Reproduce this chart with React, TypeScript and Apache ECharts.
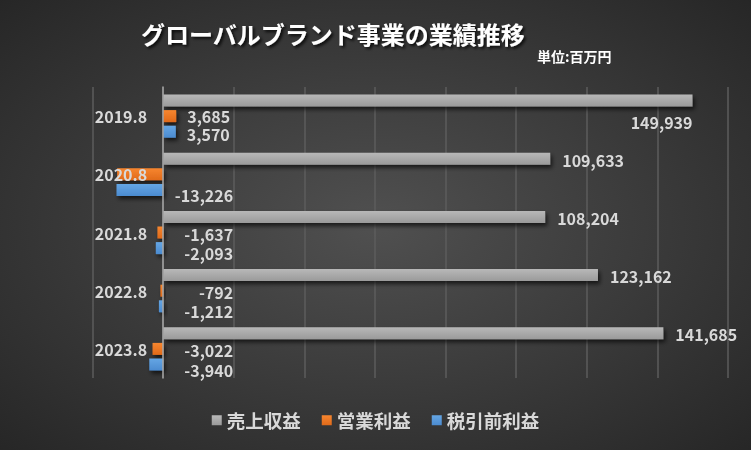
import React, { useEffect, useRef } from "react";
import * as echarts from "echarts";

const categories = ["2019.8", "2020.8", "2021.8", "2022.8", "2023.8"];
const seriesNames = ["売上収益", "営業利益", "税引前利益"];
const revenue = [149939, 109633, 108204, 123162, 141685];
const operatingProfit = [3685, -13050, -1637, -792, -3022];
const pretaxProfit = [3570, -13226, -2093, -1212, -3940];
const operatingLabelHidden = ["2020.8"];
const titleText = "グローバルブランド事業の業績推移";
const unitText = "単位:百万円";
const xMin = -20000;
const xMax = 160000;
const xStep = 20000;

const FONT = "'Noto Sans CJK JP', 'Noto Sans', sans-serif";
const LABEL_COLOR = "#d9d9d9";
const GRID_LEFT = 92.6;
const GRID_RIGHT = 23;
const W = 751;

const fmt = (v: number) => v.toLocaleString("en-US");

const grad = (top: string, bottom: string) =>
  new echarts.graphic.LinearGradient(0, 0, 0, 1, [
    { offset: 0, color: top },
    { offset: 1, color: bottom },
  ]);

const baseLabel = {
  show: true,
  color: LABEL_COLOR,
  fontFamily: FONT,
  fontWeight: "bold" as const,
  fontSize: 16,
  lineHeight: 14,
  formatter: (p: any) => fmt(p.value),
};

const profitItems = (
  values: number[],
  dyPos: number,
  dyNeg: number,
  hidden: string[] = []
) =>
  values.map((v, i) => {
    const hide = hidden.includes(categories[i]);
    if (hide) return { value: v, label: { show: false } };
    if (v < 0)
      return {
        value: v,
        label: { position: "right", align: "right", distance: 0, offset: [70, dyNeg] },
      };
    return { value: v, label: { position: "right", distance: 11, offset: [0, dyPos] } };
  });

const revenueItems = () => {
  const max = Math.max(...revenue);
  return revenue.map((v) =>
    v === max
      ? {
          value: v,
          label: {
            position: ["100%", "100%"],
            align: "right",
            verticalAlign: "top",
            offset: [0, 8],
          },
        }
      : { value: v, label: { position: "right", distance: 12, offset: [0, 1] } }
  );
};

const shadow = {
  shadowColor: "rgba(0,0,0,0.65)",
  shadowBlur: 4,
  shadowOffsetX: 2,
  shadowOffsetY: 3,
};

export default function App() {
  const ref = useRef<HTMLDivElement>(null);
  useEffect(() => {
    if (!ref.current) return;
    const chart = echarts.init(ref.current, undefined, { renderer: "svg" });
    const plotW = W - GRID_LEFT - GRID_RIGHT;
    const zeroShift = ((0 - xMin) / (xMax - xMin)) * plotW;
    chart.setOption({
      animation: false,
      backgroundColor: {
        type: "radial",
        x: 0.5,
        y: 0.5,
        r: 0.75,
        colorStops: [
          { offset: 0, color: "#505050" },
          { offset: 1, color: "#242424" },
        ],
      },
      title: [
        {
          text: titleText,
          left: 136,
          top: 16,
          textStyle: {
            color: "#ffffff",
            fontFamily: FONT,
            fontWeight: "bold",
            fontSize: 24,
            textShadowColor: "rgba(0,0,0,0.8)",
            textShadowBlur: 3,
            textShadowOffsetX: 2,
            textShadowOffsetY: 2,
          },
        },
        {
          text: unitText,
          left: 532,
          top: 44,
          textStyle: {
            color: "#ffffff",
            fontFamily: FONT,
            fontWeight: "bold",
            fontSize: 14,
          },
        },
      ],
      legend: {
        data: seriesNames,
        left: "center",
        top: 406,
        icon: "rect",
        itemWidth: 10,
        itemHeight: 10,
        itemGap: 21,
        textStyle: {
          color: LABEL_COLOR,
          fontFamily: FONT,
          fontWeight: "bold",
          fontSize: 18.5,
        },
      },
      grid: { left: GRID_LEFT, right: GRID_RIGHT, top: 87, bottom: 72, containLabel: false },
      xAxis: {
        type: "value",
        min: xMin,
        max: xMax,
        interval: xStep,
        axisLabel: { show: false },
        axisLine: { show: false },
        axisTick: { show: false },
        splitLine: { lineStyle: { color: "#5c5c5c", width: 1.5 } },
      },
      yAxis: {
        type: "category",
        data: categories,
        inverse: true,
        z: 10,
        offset: -zeroShift,
        axisTick: { show: false },
        axisLine: { onZero: false, lineStyle: { color: "#a6a6a6", width: 1.5 } },
        axisLabel: {
          color: LABEL_COLOR,
          fontFamily: FONT,
          fontWeight: "bold",
          fontSize: 16,
          margin: 16,
        },
      },
      series: [
        {
          name: seriesNames[0],
          type: "bar",
          data: revenueItems(),
          barWidth: 12,
          barGap: "30%",
          itemStyle: { color: grad("#b8b8b8", "#9a9a9a"), ...shadow },
          label: baseLabel,
        },
        {
          name: seriesNames[1],
          type: "bar",
          data: profitItems(operatingProfit, 0, 1, operatingLabelHidden),
          barWidth: 12,
          barGap: "30%",
          itemStyle: { color: grad("#f7862f", "#e06a1a"), ...shadow },
          label: baseLabel,
        },
        {
          name: seriesNames[2],
          type: "bar",
          data: profitItems(pretaxProfit, 2, 5),
          barWidth: 12,
          barGap: "30%",
          itemStyle: { color: grad("#65a6e4", "#4b8bd0"), ...shadow },
          label: baseLabel,
        },
      ],
    });
    return () => chart.dispose();
  }, []);
  return (
    <div
      ref={ref}
      style={{ position: "fixed", left: 0, top: 0, width: 751, height: 450 }}
    />
  );
}
